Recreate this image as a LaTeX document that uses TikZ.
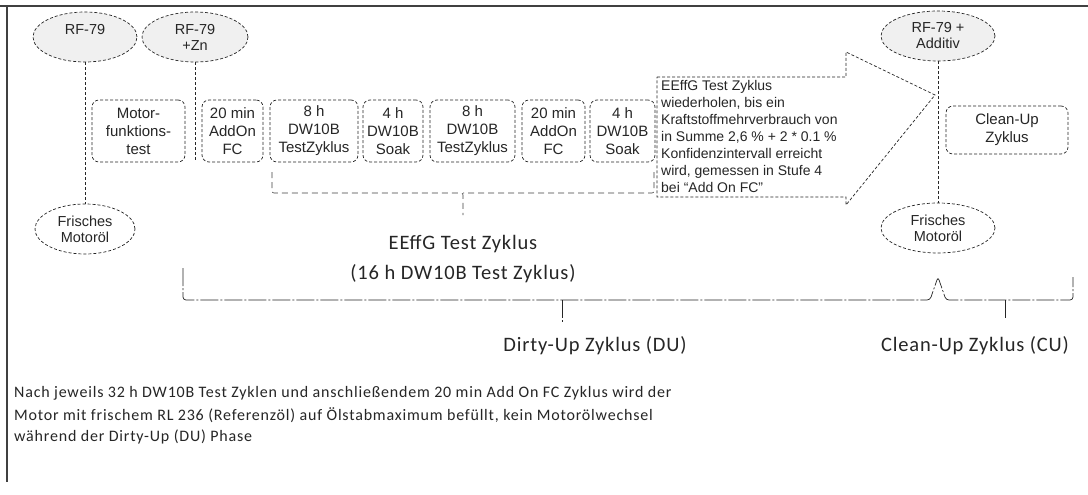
\documentclass[tikz,border=0pt]{standalone}
\usepackage{fontspec}
\setmainfont{Liberation Sans}
\newfontfamily\bigfont[LetterSpace=4]{Carlito}
\newfontfamily\parafont[LetterSpace=5]{Carlito}
\usetikzlibrary{shapes.geometric}
\begin{document}
\begin{tikzpicture}[x=1pt,y=-1pt,
  dsh/.style={densely dashed, line width=0.7pt, draw=black!85},
  ell/.style={ellipse, dsh, inner sep=0pt, align=center, text=black!85,
    font=\fontsize{14.5}{16}\selectfont},
  stepbox/.style={rectangle, rounded corners=7pt, dsh, align=center,
    minimum height=62pt, inner sep=0pt, text=black!85,
    font=\fontsize{15}{18}\selectfont},
  biglabel/.style={font=\bigfont\fontsize{20.5}{30}\selectfont, text=black!85, align=center},
  brace/.style={line width=0.7pt, draw=black!85,
    dash pattern=on 18pt off 2pt on 2pt off 2pt, rounded corners=3pt},
  smallbrace/.style={line width=0.6pt, draw=black!75,
    dash pattern=on 6pt off 4pt, rounded corners=2pt},
  frame/.style={line width=1.2pt, draw=black!75},
  para/.style={anchor=west, inner sep=0pt, text=black!85,
    font=\parafont\fontsize{16}{20}\selectfont}
]
\useasboundingbox (0,0) rectangle (1088,495);
\fill[white] (0,0) rectangle (1088,495);

% frame
\draw[frame] (0,6) -- (1088,6);
\draw[frame] (7,6) -- (7,482);

% top ellipses
\node[ell, fill=gray!12, minimum width=104pt, minimum height=50pt] (rf) at (85,37) {RF-79\\~};
\node[ell, fill=gray!12, minimum width=106pt, minimum height=50pt] (rfzn) at (195,37) {RF-79\\+Zn};
\node[ell, fill=gray!12, minimum width=114pt, minimum height=50pt] (rfadd) at (938,36) {RF-79 +\\Additiv};

% bottom ellipses
\node[ell, fill=white, minimum width=100pt, minimum height=50pt] (fr1) at (85,229) {Frisches\\Motoröl};
\node[ell, fill=white, minimum width=114pt, minimum height=50pt] (fr2) at (938,228) {Frisches\\Motoröl};

% vertical connectors
\coordinate (znend) at (195,160);
\draw[dsh] (rf) -- (fr1);
\draw[dsh] (rfzn) -- (znend);
\draw[dsh] (rfadd) -- (fr2);

% step boxes
\node[stepbox, minimum width=93pt] (motor) at (138.5,131) {Motor-\\funktions-\\test};
\node[stepbox, minimum width=61pt] (fc1) at (232.5,131) {20 min\\AddOn\\FC};
\node[stepbox, minimum width=88pt] (t1) at (314,131) {8 h\\DW10B\\TestZyklus};
\node[stepbox, minimum width=60pt] (s1) at (393,131) {4 h\\DW10B\\Soak};
\node[stepbox, minimum width=85pt] (t2) at (472.5,131) {8 h\\DW10B\\TestZyklus};
\node[stepbox, minimum width=63pt] (fc2) at (553.5,131) {20 min\\AddOn\\FC};
\node[stepbox, minimum width=65pt] (s2) at (622.5,131) {4 h\\DW10B\\Soak};

% clean-up box
\node[stepbox, minimum width=122pt, minimum height=48pt] (cu) at (1007,130) {Clean-Up\\Zyklus};

% note arrow
\coordinate (n1) at (657,77);
\coordinate (n2) at (846,77);
\coordinate (n3) at (846,52);
\coordinate (ntip) at (935,95);
\coordinate (n4) at (846,205);
\coordinate (n5) at (846,197);
\coordinate (n6) at (657,197);
\draw[dsh] (n1) -- (n2) -- (n3) -- (ntip) -- (n4) -- (n5) -- (n6) -- cycle;
\node[anchor=north west, align=left, inner sep=0pt, text=black!85,
  font=\fontsize{14}{17}\selectfont] (note) at (661,80)
  {EEffG Test Zyklus\\wiederholen, bis ein\\Kraftstoffmehrverbrauch von\\in Summe 2,6 \% + 2 * 0.1 \%\\Konfidenzintervall erreicht\\wird, gemessen in Stufe 4\\bei “Add On FC”};

% small brace under test cycle
\coordinate (sbl) at (272,172);
\coordinate (sbr) at (654,172);
\coordinate (sbm) at (463,193);
\coordinate (sbt) at (463,215);
\draw[smallbrace] (sbl) |- (sbm) -- (sbt);
\draw[smallbrace] (sbr) |- (sbm);

\node[biglabel] (eeffg) at (463,244) {EEffG Test Zyklus};
\node[biglabel] (eeffg2) at (463,274) {(16 h DW10B Test Zyklus)};

% long braces
\coordinate (dul) at (183,268);
\coordinate (dujl) at (930,300);
\coordinate (duj) at (938,277);
\coordinate (dujr) at (946,300);
\coordinate (cur) at (1073,277);
\coordinate (dum) at (562,300);
\coordinate (dut) at (562,322);
\coordinate (cum) at (1005,300);
\coordinate (cut) at (1005,318);
\draw[brace] (dul) |- (dujl) -- (duj) -- (dujr) -| (cur);
\draw[brace] (dum) -- (dut);
\draw[brace] (cum) -- (cut);

\node[biglabel] (du) at (595,346) {Dirty-Up Zyklus (DU)};
\node[biglabel] (culab) at (975,346) {Clean-Up Zyklus (CU)};

% paragraph
\node[para] (p1) at (14,393) {Nach jeweils 32 h DW10B Test Zyklen und anschließendem 20 min Add On FC Zyklus wird der};
\node[para] (p2) at (14,415) {Motor mit frischem RL 236 (Referenzöl) auf Ölstabmaximum befüllt, kein Motorölwechsel};
\node[para] (p3) at (14,437) {während der Dirty-Up (DU) Phase};
\end{tikzpicture}
\end{document}
